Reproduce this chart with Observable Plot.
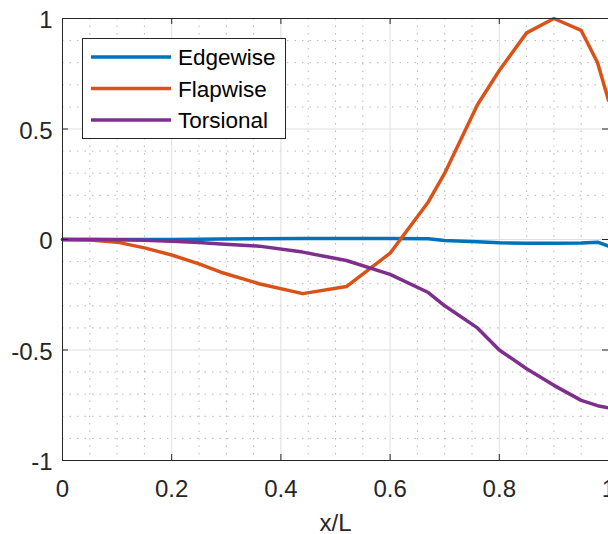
<!DOCTYPE html>
<html><head><meta charset="utf-8">
<script src="https://cdn.jsdelivr.net/npm/d3@7"></script>
<script src="https://cdn.jsdelivr.net/npm/@observablehq/plot@0.6"></script>
<style>
html,body{margin:0;padding:0;background:#fff;}
#wrap{position:relative;width:608px;height:534px;overflow:hidden;}
</style></head><body><div id="wrap"></div>
<script>
const xPos      = [0, 0.05, 0.1, 0.15, 0.2, 0.25, 0.29, 0.36, 0.44, 0.52, 0.6, 0.67, 0.7, 0.76, 0.8, 0.85, 0.9, 0.95, 0.98, 1.0];
const edgewise  = [0, 0, 0, 0, 0, 0.001, 0.002, 0.003, 0.004, 0.005, 0.005, 0.003, -0.004, -0.01, -0.015, -0.017, -0.017, -0.016, -0.012, -0.03];
const flapwise  = [0, -0.002, -0.012, -0.038, -0.07, -0.11, -0.148, -0.2, -0.245, -0.213, -0.062, 0.17, 0.3, 0.61, 0.765, 0.935, 1.0, 0.946, 0.8, 0.63];
const torsional = [0, 0, -0.001, -0.003, -0.008, -0.014, -0.02, -0.03, -0.057, -0.095, -0.158, -0.24, -0.3, -0.4, -0.5, -0.585, -0.66, -0.728, -0.752, -0.762];
const seriesNames  = ["Edgewise", "Flapwise", "Torsional"];
const seriesColors = ["#0072BD", "#D95319", "#7E2F8E"];
const xTicks      = [0, 0.2, 0.4, 0.6, 0.8, 1];
const xTickLabels = ["0", "0.2", "0.4", "0.6", "0.8", "1"];
const yTicks      = [-1, -0.5, 0, 0.5, 1];
const yTickLabels = ["-1", "-0.5", "0", "0.5", "1"];
const xLabel = "x/L";

const seriesValues = [edgewise, flapwise, torsional];
const data = seriesNames.flatMap((name, i) => xPos.map((x, j) => ({x, y: seriesValues[i][j], series: name})));

const minorX = d3.range(1, 20).map(i => +(i * 0.05).toFixed(2)).filter(v => Math.abs(v * 5 - Math.round(v * 5)) > 1e-6);
const minorY = d3.range(-9, 10).map(i => +(i * 0.1).toFixed(2)).filter(v => Math.abs(v * 2 - Math.round(v * 2)) > 1e-6);

const W = 608, H = 534, mL = 62, mR = 0, mT = 18, mB = 74;
const pw = W - mL - mR, ph = H - mT - mB, tk = 6;
const font = "'Liberation Sans', Arial, Helvetica, sans-serif";

const plot = Plot.plot({
  width: W, height: H, marginLeft: mL, marginRight: mR, marginTop: mT, marginBottom: mB,
  style: {fontFamily: font, fontSize: "24px", background: "#fff", color: "#262626", overflow: "visible"},
  x: {domain: [0, 1]},
  y: {domain: [-1, 1]},
  color: {domain: seriesNames, range: seriesColors},
  marks: [
    Plot.gridX(minorX, {stroke: "#b8b8b8", strokeOpacity: 1, strokeDasharray: "1.5,6"}),
    Plot.gridY(minorY, {stroke: "#b8b8b8", strokeOpacity: 1, strokeDasharray: "1.5,6"}),
    Plot.gridX(xTicks, {stroke: "#dfdfdf", strokeOpacity: 1}),
    Plot.gridY(yTicks, {stroke: "#dfdfdf", strokeOpacity: 1}),
    Plot.line(data, {x: "x", y: "y", z: "series", stroke: "series", strokeWidth: 3.5, strokeLinejoin: "round"}),
    Plot.frame({stroke: "#262626"}),
    Plot.tickX(xTicks, {x: d => d, stroke: "#262626", insetTop: ph - tk}),
    Plot.tickX(xTicks, {x: d => d, stroke: "#262626", insetBottom: ph - tk}),
    Plot.tickY(yTicks, {y: d => d, stroke: "#262626", insetRight: pw - tk}),
    Plot.tickY(yTicks, {y: d => d, stroke: "#262626", insetLeft: pw - tk}),
    Plot.axisX(xTicks, {tickSize: 0, tickPadding: 19, fontSize: 24, tickFormat: d => xTickLabels[xTicks.indexOf(d)],
      label: xLabel, labelAnchor: "center", labelOffset: 70, labelArrow: "none"}),
    Plot.axisY(yTicks, {tickSize: 0, tickPadding: 10, dy: 2, fontSize: 24, tickFormat: d => yTickLabels[yTicks.indexOf(d)], label: null})
  ]
});
document.getElementById("wrap").appendChild(plot);

// legend inside the axes
const svg = d3.select(plot);
const lg = svg.append("g").attr("font-family", font).attr("font-size", 22.5).attr("text-anchor", "start");
lg.append("rect").attr("x", 82.5).attr("y", 38.5).attr("width", 203).attr("height", 100)
  .attr("fill", "#fff").attr("stroke", "#262626").attr("stroke-width", 1);
seriesNames.forEach((name, i) => {
  const cy = 57 + i * 31.5;
  lg.append("line").attr("x1", 91).attr("x2", 171).attr("y1", cy).attr("y2", cy)
    .attr("stroke", seriesColors[i]).attr("stroke-width", 3.5);
  lg.append("text").attr("x", 178).attr("y", cy).attr("dy", "0.36em").attr("fill", "#000")
    .attr("text-anchor", "start").text(name);
});
</script>
</body></html>
